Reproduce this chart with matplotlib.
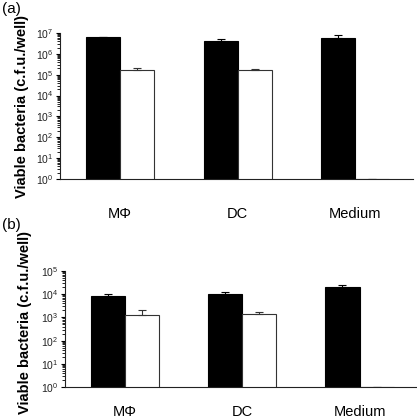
import matplotlib
matplotlib.use("Agg")
import matplotlib.pyplot as plt
from matplotlib.ticker import LogLocator, NullFormatter
import numpy as np

plt.rcParams['font.family'] = ['Liberation Sans', 'DejaVu Sans']

categories = ["M\u03a6", "DC", "Medium"]

# Panel (a)
a_black = [6.2e6, 4.3e6, 5.6e6]
a_black_err = [0.4e6, 1.0e6, 2.4e6]
a_white = [1.7e5, 1.6e5, 1.0]
a_white_err = [0.3e5, 0.3e5, 0.0]

# Panel (b)
b_black = [8.5e3, 1.0e4, 2.1e4]
b_black_err = [1.5e3, 2.5e3, 3.0e3]
b_white = [1.25e3, 1.4e3, 1.0]
b_white_err = [0.85e3, 0.3e3, 0.0]

W, H = 417, 419
fig = plt.figure(figsize=(W / 100, H / 100), dpi=100)

def make_panel(rect, black, berr, white, werr, ytop, label, label_y, cat_pad):
    l, t, r, b = rect
    ax = fig.add_axes([l / W, 1 - b / H, (r - l) / W, (b - t) / H])
    x = np.arange(len(categories))
    w = 0.29
    ax.bar(x - w / 2, black, width=w, color='black', edgecolor='black', linewidth=0.8)
    ax.bar(x + w / 2, white, width=w, color='white', edgecolor='#333333', linewidth=0.8)
    ax.errorbar(x - w / 2, black, yerr=[np.zeros(3), berr], fmt='none', ecolor='black',
                elinewidth=0.8, capsize=3, capthick=0.8)
    ax.errorbar(x + w / 2, white, yerr=[np.zeros(3), werr], fmt='none', ecolor='#333333',
                elinewidth=0.8, capsize=3, capthick=0.8)
    ax.set_yscale('log')
    ax.set_ylim(1, ytop)
    ax.set_xlim(-0.51, 2.49)
    ax.yaxis.set_major_locator(LogLocator(base=10, numticks=20))
    ax.yaxis.set_minor_locator(LogLocator(base=10, subs=np.arange(2, 10), numticks=20))
    ax.yaxis.set_minor_formatter(NullFormatter())
    ax.tick_params(axis='y', which='major', length=3, width=0.8, labelsize=7.5,
                   labelcolor='#222222', pad=2)
    ax.tick_params(axis='y', which='minor', length=2, width=0.6)
    ax.set_xticks(x)
    ax.set_xticklabels(categories, fontsize=10.5)
    ax.tick_params(axis='x', length=0, pad=cat_pad)
    for s in ['top', 'right']:
        ax.spines[s].set_visible(False)
    for s in ['left', 'bottom']:
        ax.spines[s].set_linewidth(0.8)
        ax.spines[s].set_color('#222222')
    ax.set_ylabel("Viable bacteria (c.f.u./well)", fontsize=10.5, fontweight='bold')
    fig.text(2 / W, 1 - label_y / H, label, fontsize=11, va='center', ha='left')
    return ax

ax1 = make_panel((60, 33, 413, 179), a_black, a_black_err, a_white, a_white_err, 1e7, "(a)", 9, 20)
ax1.yaxis.set_label_coords(-0.088, 0.5)
ax2 = make_panel((65, 271, 417, 387), b_black, b_black_err, b_white, b_white_err, 1e5, "(b)", 225, 13)
ax2.yaxis.set_label_coords(-0.095, 0.56)

fig.savefig("out.png", dpi=100)
